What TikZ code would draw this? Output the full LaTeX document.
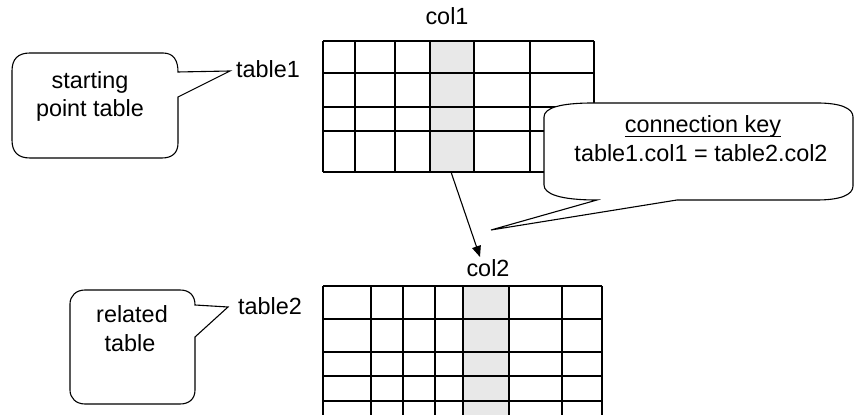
\documentclass[tikz,border=0pt]{standalone}
\usepackage{fontspec}
\setmainfont{Liberation Sans}
\usetikzlibrary{arrows.meta}
\newcommand{\myul}[1]{\setbox0\hbox{#1}\rlap{\rule[-2pt]{\wd0}{0.5pt}}\box0}
\begin{document}
\begin{tikzpicture}[x=0.5pt,y=-0.5pt,
  gridline/.style={line width=0.55pt,black},
  colfill/.style={fill=black!9},
  bubble/.style={draw=black,line width=0.55pt,fill=white},
  lbl/.style={font=\fontsize{11.7}{14.5}\selectfont,inner sep=0pt,anchor=base},
  connector/.style={line width=0.55pt,-{Triangle[length=5.5pt,width=4.5pt]}}]
\clip (0,0) rectangle (854,415);
\fill[white] (0,0) rectangle (854,415);
% ---------- table 1 ----------
\fill[colfill] (430,41) rectangle (474,172);
\foreach \xx in {323,355,395,430,474,530,594} \draw[gridline] (\xx,41) -- (\xx,172);
\foreach \yy in {41,73,107,131,172} \draw[gridline] (323,\yy) -- (594,\yy);
% ---------- table 2 ----------
\fill[colfill] (463,286) rectangle (509,430);
\foreach \xx in {323,371,403,435,463,509,562,602} \draw[gridline] (\xx,286) -- (\xx,430);
\foreach \yy in {286,319,352,376,401} \draw[gridline] (323,\yy) -- (602,\yy);
% ---------- labels ----------
\node[lbl] (col1) at (447,25) {col1};
\node[lbl] (col2) at (488,277) {col2};
\node[lbl] (tab1) at (268,78) {table1};
\node[lbl] (tab2) at (270,315) {table2};
% ---------- connector ----------
\coordinate (c1bot) at (451,172);
\coordinate (c2top) at (480,257);
\draw[connector] (c1bot) -- (c2top);
% ---------- callout 1 ----------
\draw[bubble] (30,53) -- (163,53) .. controls (174,53) and (178,61) .. (178,72)
  -- (230,71) -- (178,97) -- (178,143) .. controls (178,153) and (172,158) .. (162,158)
  -- (30,158) .. controls (18,158) and (12,152) .. (12,140) -- (12,71)
  .. controls (12,59) and (18,53) .. (30,53) -- cycle;
\node[lbl] (start1) at (90,89) {starting};
\node[lbl] (start2) at (90,117) {point table};
% ---------- callout 3 ----------
\draw[bubble] (85,290) -- (180,290) .. controls (190,290) and (195,296) .. (195,305)
  -- (228,307) -- (195,337) -- (195,390) .. controls (195,399) and (189,404) .. (180,404)
  -- (85,404) .. controls (76,404) and (70,398) .. (70,390) -- (70,304)
  .. controls (70,296) and (76,290) .. (85,290) -- cycle;
\node[lbl] (rel1) at (132,323) {related};
\node[lbl] (rel2) at (130,352) {table};
% ---------- callout 2 ----------
\draw[bubble] (593,103) -- (817,103) .. controls (840,103) and (853,108) .. (853,117)
  -- (853,186) .. controls (853,195) and (840,200) .. (817,200)
  -- (677,200) -- (491,230) -- (597,200)
  .. controls (560,200) and (544,194) .. (544,185) -- (544,117)
  .. controls (544,108) and (560,103) .. (593,103) -- cycle;
\node[lbl] (key1) at (703,133) {\myul{connection key}};
\node[lbl] (key2) at (701,162) {table1.col1 = table2.col2};
\end{tikzpicture}
\end{document}
